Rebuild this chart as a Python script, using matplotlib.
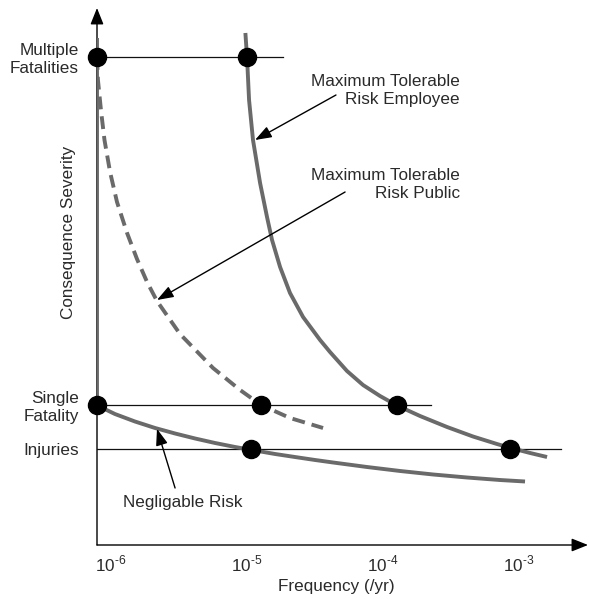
import numpy as np
import matplotlib
matplotlib.use("Agg")
import matplotlib.pyplot as plt

plt.rcParams['font.family'] = ['Liberation Sans', 'DejaVu Sans']
plt.rcParams['mathtext.fontset'] = 'custom'
plt.rcParams['mathtext.rm'] = 'Liberation Sans'

# ---- data (frequency per year as log10, severity in arbitrary units) ----
severity_levels = [2.0, 2.917, 10.167]
severity_labels = ["Injuries", "Single\nFatality", "Multiple\nFatalities"]
xtick_vals = [1e-6, 1e-5, 1e-4, 1e-3]
xtick_labels = [r"10$^{\text{-6}}$", r"10$^{\text{-5}}$",
                r"10$^{\text{-4}}$", r"10$^{\text{-3}}$"]

employee_lf = [-5.012, -5.0, -4.985, -4.956, -4.904, -4.853, -4.816, -4.757, -4.684,
               -4.588, -4.463, -4.390, -4.265, -4.147, -4.022, -3.897, -3.728,
               -3.529, -3.338, -3.162, -3.074, -2.919, -2.794]
employee_sev = [10.667, 10.167, 9.271, 8.4375, 7.542, 6.833, 6.354, 5.792, 5.25,
                4.75, 4.271, 4.021, 3.625, 3.333, 3.104, 2.906, 2.6875,
                2.458, 2.260, 2.104, 2.031, 1.917, 1.833]

public_lf = [-6.103, -6.096, -6.074, -6.048, -6.007, -5.956, -5.882, -5.809,
             -5.735, -5.662, -5.493, -5.25, -5.051, -4.897, -4.684, -4.441]
public_sev = [10.167, 9.6875, 9.0625, 8.4375, 7.771, 7.146, 6.5, 5.958,
              5.479, 5.083, 4.396, 3.6875, 3.229, 2.917, 2.646, 2.4375]

negl_lf = [-6.103, -6.081, -5.971, -5.824, -5.676, -5.529, -5.382, -5.235, -5.088,
           -4.963, -4.794, -4.647, -4.5, -4.368, -4.118, -3.875, -3.632, -3.382,
           -3.140, -2.956]
negl_sev = [2.917, 2.879, 2.729, 2.573, 2.4375, 2.323, 2.219, 2.125, 2.042,
            1.979, 1.896, 1.833, 1.771, 1.719, 1.625, 1.542, 1.469, 1.406,
            1.354, 1.323]

vert_lf = [-6.103, -6.103]
vert_sev = [2.917, 10.56]

# horizontal reference lines: severity, start lf, end lf
hline_sev = [10.167, 2.917, 2.0]
hline_start_lf = [-6.103, -6.103, -6.103]
hline_end_lf = [-4.735, -3.647, -2.69]

# key points
dot_lf = [-6.103, -5.0, -6.103, -4.897, -3.897, -4.97, -3.07]
dot_sev = [10.167, 10.167, 2.917, 2.917, 2.917, 2.0, 2.0]

x_range_lf = [-6.103, -2.493]
y_range = [0, 11.1875]

# ---- figure ----
fig = plt.figure(figsize=(5.89, 5.99), dpi=100)
ax = fig.add_axes([97/589, 54/599, 491/589, 537/599])
ax.set_xscale('log')
ax.set_xlim(10**x_range_lf[0], 10**x_range_lf[1])
ax.set_ylim(*y_range)
for s in ax.spines.values():
    s.set_visible(False)

gray = '#6a6a6a'
tc = '#2a2a2a'
fs = 12.3

def f(lf):
    return 10**np.asarray(lf)

for s, a, b in zip(hline_sev, hline_start_lf, hline_end_lf):
    ax.plot(f([a, b]), [s, s], color='#111111', lw=0.9, zorder=2)

lw = 2.8
ax.plot(f(vert_lf), vert_sev, color=gray, lw=lw, zorder=3, solid_capstyle='butt')
ax.plot(f(employee_lf), employee_sev, color=gray, lw=lw, zorder=3,
        solid_capstyle='butt', solid_joinstyle='round')
ax.plot(f(negl_lf), negl_sev, color=gray, lw=lw, zorder=3,
        solid_capstyle='butt', solid_joinstyle='round')
ax.plot(f(public_lf), public_sev, color=gray, lw=lw, zorder=3,
        linestyle=(0, (3.3, 1.8)), dash_capstyle='butt', dash_joinstyle='round')

ax.plot(f(dot_lf), dot_sev, 'o', color='black', ms=13, zorder=5, clip_on=False)

# axes arrows
axis_arrow = dict(arrowstyle='-|>,head_length=0.5,head_width=0.2', color='black',
                  lw=1.0, mutation_scale=20, shrinkA=0, shrinkB=0)
ax.annotate('', xy=(1.0, 0), xytext=(0, 0), xycoords='axes fraction',
            arrowprops=axis_arrow, zorder=1)
ax.annotate('', xy=(0, 1.0), xytext=(0, 0), xycoords='axes fraction',
            arrowprops=axis_arrow, zorder=1)

# ticks
ax.set_xticks(xtick_vals)
ax.set_xticklabels(xtick_labels)
ax.minorticks_off()
ax.set_yticks(severity_levels)
ax.set_yticklabels(severity_labels)
ax.tick_params(axis='x', length=0, pad=6, labelsize=fs, labelcolor=tc)
ax.tick_params(axis='y', length=0, pad=13, labelsize=fs, labelcolor=tc)
for lbl in ax.get_yticklabels():
    lbl.set_multialignment('right')

fig.text(68/589, 1 - 232/599, "Consequence Severity", rotation=90,
         ha='center', va='center', fontsize=fs, color=tc)
fig.text(336/589, 1 - 586/599, "Frequency (/yr)", ha='center', va='center',
         fontsize=fs, color=tc)

# annotations
arrow_kw = dict(arrowstyle='-|>,head_length=0.5,head_width=0.18', color='black',
                lw=1.0, mutation_scale=20, shrinkA=0, shrinkB=0)
ax.annotate('', xy=(10**-4.941, 8.4375), xytext=(10**-4.346, 9.375),
            arrowprops=arrow_kw)
ax.text(10**-3.434, 9.47, "Maximum Tolerable\nRisk Employee", ha='right', va='center',
        fontsize=fs, color=tc, multialignment='right', linespacing=1.3)
ax.annotate('', xy=(10**-5.662, 5.104), xytext=(10**-4.279, 7.354),
            arrowprops=arrow_kw)
ax.text(10**-3.434, 7.51, "Maximum Tolerable\nRisk Public", ha='right', va='center',
        fontsize=fs, color=tc, multialignment='right', linespacing=1.3)
ax.annotate('', xy=(10**-5.662, 2.42), xytext=(10**-5.529, 1.1875),
            arrowprops=arrow_kw)
ax.text(10**-5.47, 0.875, "Negligable Risk", ha='center', va='center',
        fontsize=fs, color=tc)

fig.savefig("out.png", dpi=100, facecolor='white')
